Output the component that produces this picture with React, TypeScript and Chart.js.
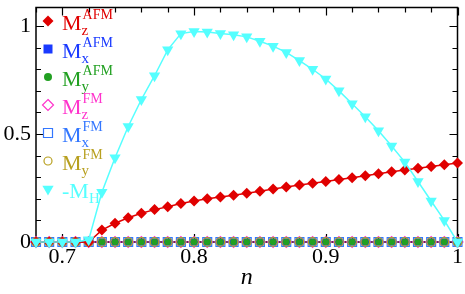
import React, { useEffect, useRef } from 'react';
import { Chart, registerables } from 'chart.js';

Chart.register(...registerables);

const nValues = [
  0.68, 0.69, 0.7, 0.71, 0.72, 0.73, 0.74, 0.75, 0.76, 0.77, 0.78, 0.79, 0.8, 0.81, 0.82, 0.83, 0.84,
  0.85, 0.86, 0.87, 0.88, 0.89, 0.9, 0.91, 0.92, 0.93, 0.94, 0.95, 0.96, 0.97, 0.98, 0.99, 1.0,
];

const mzAFM = [
  0, 0, 0, 0, 0, 0.055, 0.087, 0.112, 0.133, 0.15, 0.163, 0.178, 0.19, 0.2, 0.208, 0.217, 0.226,
  0.235, 0.245, 0.255, 0.264, 0.272, 0.28, 0.289, 0.298, 0.307, 0.316, 0.325, 0.333, 0.341, 0.35, 0.358, 0.366,
];

const mxAFM = [0, 0, 0, 0, 0, 0, 0, 0, 0, 0, 0, 0, 0, 0, 0, 0, 0, 0, 0, 0, 0, 0, 0, 0, 0, 0, 0, 0, 0, 0, 0, 0, 0];
const myAFM = [0, 0, 0, 0, 0, 0, 0, 0, 0, 0, 0, 0, 0, 0, 0, 0, 0, 0, 0, 0, 0, 0, 0, 0, 0, 0, 0, 0, 0, 0, 0, 0, 0];
const mzFM = [0, 0, 0, 0, 0, 0, 0, 0, 0, 0, 0, 0, 0, 0, 0, 0, 0, 0, 0, 0, 0, 0, 0, 0, 0, 0, 0, 0, 0, 0, 0, 0, 0];
const mxFM = [0, 0, 0, 0, 0, 0, 0, 0, 0, 0, 0, 0, 0, 0, 0, 0, 0, 0, 0, 0, 0, 0, 0, 0, 0, 0, 0, 0, 0, 0, 0, 0, 0];
const myFM = [0, 0, 0, 0, 0, 0, 0, 0, 0, 0, 0, 0, 0, 0, 0, 0, 0, 0, 0, 0, 0, 0, 0, 0, 0, 0, 0, 0, 0, 0, 0, 0, 0];

const minusMH = [
  0, 0, 0, 0, 0.01, 0.23, 0.39, 0.535, 0.66, 0.77, 0.89, 0.965, 0.975, 0.973, 0.966, 0.96, 0.95,
  0.93, 0.907, 0.878, 0.84, 0.8, 0.755, 0.7, 0.64, 0.58, 0.515, 0.445, 0.37, 0.28, 0.19, 0.1, 0,
];

const xTickValues = [0.7, 0.8, 0.9, 1.0];
const yTickValues = [0, 0.5, 1];

const C_RED = '#e00000';
const C_BLUE = '#1a3aff';
const C_GREEN = '#22a022';
const C_MAG = '#ff33cc';
const C_BLUE2 = '#3377ff';
const C_OLIVE = '#b8a020';
const C_CYAN = '#55ffff';

const FONT = '"Liberation Serif", "Times New Roman", serif';

type LegendItem = { main: string; sub: string; sup: string; color: string; marker: string };
const legendItems: LegendItem[] = [
  { main: 'M', sub: 'z', sup: 'AFM', color: C_RED, marker: 'diamondF' },
  { main: 'M', sub: 'x', sup: 'AFM', color: C_BLUE, marker: 'squareF' },
  { main: 'M', sub: 'y', sup: 'AFM', color: C_GREEN, marker: 'circleF' },
  { main: 'M', sub: 'z', sup: 'FM', color: C_MAG, marker: 'diamondO' },
  { main: 'M', sub: 'x', sup: 'FM', color: C_BLUE2, marker: 'squareO' },
  { main: 'M', sub: 'y', sup: 'FM', color: C_OLIVE, marker: 'circleO' },
  { main: '-M', sub: 'H', sup: '', color: C_CYAN, marker: 'triangle' },
];

function drawMarker(ctx: CanvasRenderingContext2D, kind: string, x: number, y: number, color: string) {
  ctx.save();
  ctx.fillStyle = color;
  ctx.strokeStyle = color;
  ctx.lineWidth = 1.2;
  ctx.beginPath();
  if (kind.startsWith('diamond')) {
    const r = 5.5;
    ctx.moveTo(x, y - r);
    ctx.lineTo(x + r, y);
    ctx.lineTo(x, y + r);
    ctx.lineTo(x - r, y);
    ctx.closePath();
  } else if (kind.startsWith('square')) {
    const s = 4.5;
    ctx.rect(x - s, y - s, 2 * s, 2 * s);
  } else if (kind.startsWith('circle')) {
    ctx.arc(x, y, 4, 0, Math.PI * 2);
  } else if (kind === 'triangle') {
    const r = 6.5;
    ctx.moveTo(x, y + r);
    ctx.lineTo(x + r * 0.866, y - r / 2);
    ctx.lineTo(x - r * 0.866, y - r / 2);
    ctx.closePath();
  }
  if (kind.endsWith('O')) ctx.stroke();
  else ctx.fill();
  ctx.restore();
}

const framePlugin = {
  id: 'frameTicks',
  beforeDatasetsDraw(chart: any) {
    const { ctx, chartArea } = chart;
    const xs = chart.scales.x;
    const ys = chart.scales.y;
    const { left, right, top, bottom } = chartArea;
    ctx.save();
    ctx.strokeStyle = '#000';
    ctx.lineWidth = 1.5;
    ctx.strokeRect(left, top, right - left, bottom - top);
    ctx.lineWidth = 1.2;
    ctx.beginPath();
    for (let i = 0; i <= 16; i++) {
      const v = 0.68 + i * 0.02;
      const major = xTickValues.some((t) => Math.abs(t - v) < 1e-6);
      const len = major ? 8 : 5;
      const px = Math.round(xs.getPixelForValue(v)) + 0.5;
      ctx.moveTo(px, bottom);
      ctx.lineTo(px, bottom - len);
      ctx.moveTo(px, top);
      ctx.lineTo(px, top + len);
    }
    for (let i = 0; i <= 10; i++) {
      const v = i * 0.1;
      const major = yTickValues.some((t) => Math.abs(t - v) < 1e-6);
      const len = major ? 8 : 5;
      const py = Math.round(ys.getPixelForValue(v)) + 0.5;
      ctx.moveTo(left, py);
      ctx.lineTo(left + len, py);
      ctx.moveTo(right, py);
      ctx.lineTo(right - len, py);
    }
    ctx.stroke();
    ctx.restore();
  },
  afterDraw(chart: any) {
    const { ctx } = chart;
    ctx.save();
    const x0 = 48;
    const tx = 62;
    legendItems.forEach((it, i) => {
      const y = 21 + i * 28;
      drawMarker(ctx, it.marker, x0, y, it.color);
      ctx.fillStyle = it.color;
      ctx.textBaseline = 'alphabetic';
      ctx.textAlign = 'left';
      ctx.font = `22px ${FONT}`;
      const base = y + 9;
      ctx.fillText(it.main, tx, base);
      const w = ctx.measureText(it.main).width;
      ctx.font = `15px ${FONT}`;
      ctx.fillText(it.sub, tx + w, base + 5);
      if (it.sup) {
        ctx.font = `14px ${FONT}`;
        ctx.fillText(it.sup, tx + w + 1, base - 11);
      }
    });
    ctx.restore();
  },
};

export default function App() {
  const ref = useRef<HTMLCanvasElement | null>(null);
  useEffect(() => {
    document.body.style.margin = '0';
    const canvas = ref.current;
    if (!canvas) return;
    const mk = (arr: number[]) => nValues.map((n, i) => ({ x: n, y: arr[i] }));
    const chart = new Chart(canvas, {
      type: 'line',
      data: {
        datasets: [
          {
            data: mk(minusMH),
            borderColor: C_CYAN,
            backgroundColor: C_CYAN,
            borderWidth: 1.5,
            pointStyle: 'triangle',
            rotation: 180,
            pointRadius: 6.5,
            pointBorderWidth: 0,
            clip: false,
          },
          {
            data: mk(mzAFM),
            borderColor: C_RED,
            backgroundColor: C_RED,
            borderWidth: 1.5,
            pointStyle: 'rectRot',
            pointRadius: 5.5,
            pointBorderWidth: 0,
            clip: false,
          },
          {
            data: mk(myAFM),
            borderColor: C_GREEN,
            backgroundColor: C_GREEN,
            showLine: false,
            pointStyle: 'circle',
            pointRadius: 3.3,
            pointBorderWidth: 0,
            clip: false,
          },
          {
            data: mk(myFM),
            borderColor: C_OLIVE,
            backgroundColor: 'rgba(0,0,0,0)',
            showLine: false,
            pointStyle: 'circle',
            pointRadius: 4.3,
            pointBorderWidth: 1.2,
            clip: false,
          },
          {
            data: mk(mxAFM),
            borderColor: C_BLUE,
            backgroundColor: C_BLUE,
            showLine: false,
            pointStyle: 'rect',
            pointRadius: 5,
            pointBorderWidth: 0,
            clip: false,
          },
          {
            data: mk(mxFM),
            borderColor: C_BLUE2,
            backgroundColor: 'rgba(0,0,0,0)',
            showLine: false,
            pointStyle: 'rect',
            pointRadius: 6.3,
            pointBorderWidth: 1.2,
            clip: false,
          },
          {
            data: mk(mzFM),
            borderColor: C_MAG,
            backgroundColor: 'rgba(0,0,0,0)',
            showLine: false,
            pointStyle: 'rectRot',
            pointRadius: 5.5,
            pointBorderWidth: 1.2,
            clip: false,
          },
        ],
      },
      options: {
        responsive: false,
        animation: false,
        devicePixelRatio: 1,
        layout: { padding: { top: 2, right: 7, left: 0, bottom: 0 } },
        plugins: { legend: { display: false }, tooltip: { enabled: false } },
        scales: {
          x: {
            type: 'linear',
            min: 0.68,
            max: 1.0,
            grid: { display: false, drawTicks: false },
            border: { display: false },
            afterBuildTicks: (s: any) => {
              s.ticks = xTickValues.map((v) => ({ value: v }));
            },
            afterFit: (s: any) => {
              s.height = 52;
              s.paddingLeft = 0;
              s.paddingRight = 0;
            },
            ticks: {
              color: '#000',
              padding: 2,
              maxRotation: 0,
              autoSkip: false,
              font: { family: FONT, size: 22 },
              callback: (v: any) => String(Math.round(Number(v) * 10) / 10),
            },
            title: {
              display: true,
              text: 'n',
              color: '#000',
              font: { family: FONT, size: 24, style: 'italic' },
              padding: { top: 0, bottom: 2 },
            },
          },
          y: {
            type: 'linear',
            min: 0,
            max: 1.086,
            grid: { display: false, drawTicks: false },
            border: { display: false },
            afterBuildTicks: (s: any) => {
              s.ticks = yTickValues.map((v) => ({ value: v }));
            },
            afterFit: (s: any) => {
              s.width = 36;
              s.paddingTop = 0;
              s.paddingBottom = 0;
            },
            ticks: {
              color: '#000',
              padding: 5,
              autoSkip: false,
              font: { family: FONT, size: 22 },
              callback: (v: any) => String(Math.round(Number(v) * 10) / 10),
            },
          },
        },
      },
      plugins: [framePlugin],
    } as any);
    return () => chart.destroy();
  }, []);
  return (
    <div style={{ width: 465, height: 294, position: 'relative' }}>
      <canvas ref={ref} width={465} height={294} style={{ display: 'block' }} />
    </div>
  );
}
